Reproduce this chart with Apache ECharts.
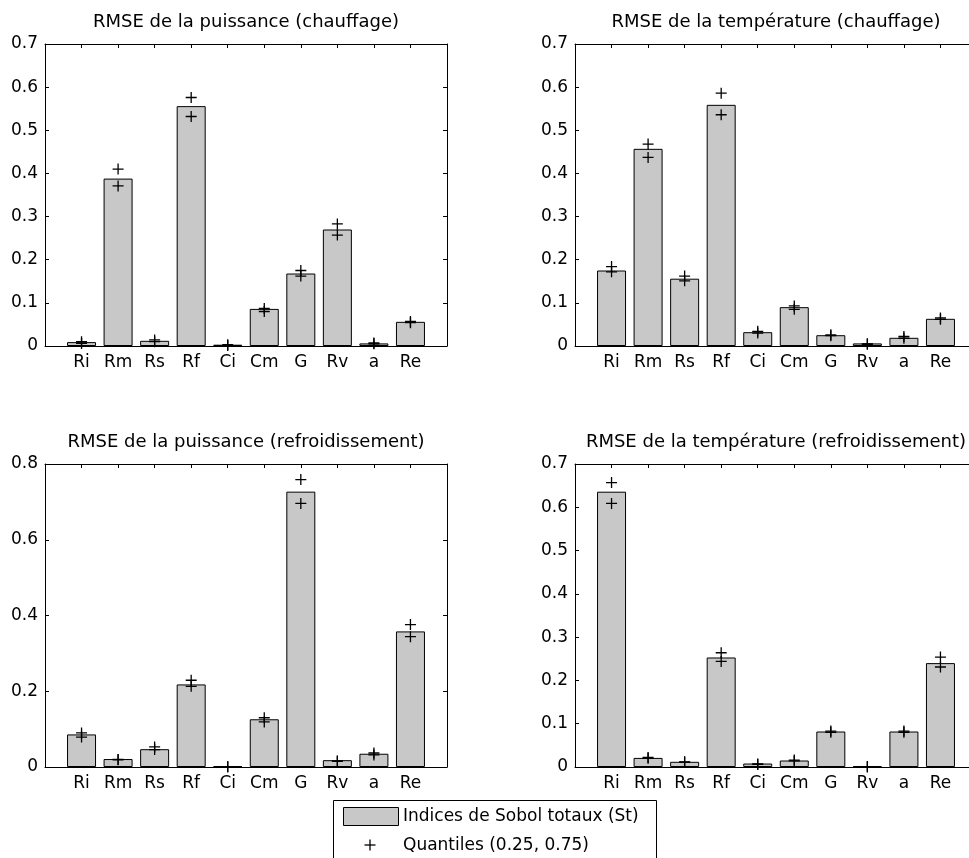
<!DOCTYPE html>
<html><head><meta charset="utf-8">
<script src="https://cdn.jsdelivr.net/npm/echarts@6/dist/echarts.min.js"></script>
<style>html,body{margin:0;padding:0;background:#fff}#c{width:969px;height:858px}</style>
</head><body><div id="c"></div>
<script>
// ---- data ----
const categories = ['Ri','Rm','Rs','Rf','Ci','Cm','G','Rv','a','Re'];
const titles = [
  'RMSE de la puissance (chauffage)',
  'RMSE de la température (chauffage)',
  'RMSE de la puissance (refroidissement)',
  'RMSE de la température (refroidissement)'
];
const stPuisChauf  = [0.009, 0.388, 0.012, 0.556, 0.003, 0.086, 0.168, 0.270, 0.006, 0.056];
const q25PuisChauf = [0.006, 0.371, 0.010, 0.532, 0.001, 0.080, 0.162, 0.257, 0.005, 0.054];
const q75PuisChauf = [0.010, 0.410, 0.014, 0.576, 0.003, 0.087, 0.175, 0.283, 0.007, 0.057];

const stTempChauf  = [0.175, 0.457, 0.156, 0.559, 0.032, 0.090, 0.025, 0.006, 0.019, 0.063];
const q25TempChauf = [0.172, 0.437, 0.151, 0.536, 0.030, 0.085, 0.024, 0.004, 0.018, 0.062];
const q75TempChauf = [0.184, 0.468, 0.162, 0.586, 0.034, 0.093, 0.026, 0.005, 0.022, 0.065];

const stPuisRefr  = [0.086, 0.021, 0.047, 0.218, 0.002, 0.126, 0.727, 0.018, 0.035, 0.358];
const q25PuisRefr = [0.079, 0.019, 0.046, 0.213, 0.000, 0.119, 0.696, 0.015, 0.032, 0.344];
const q75PuisRefr = [0.090, 0.020, 0.053, 0.229, 0.001, 0.130, 0.759, 0.016, 0.037, 0.376];

const stTempRefr  = [0.636, 0.021, 0.012, 0.253, 0.008, 0.015, 0.082, 0.002, 0.082, 0.240];
const q25TempRefr = [0.609, 0.020, 0.011, 0.244, 0.006, 0.014, 0.080, 0.000, 0.080, 0.231];
const q75TempRefr = [0.657, 0.022, 0.012, 0.264, 0.007, 0.016, 0.083, 0.001, 0.083, 0.254];

const yMaxes = [0.7, 0.7, 0.8, 0.7];
const yIntervals = [0.1, 0.1, 0.2, 0.1];
const legendLabels = ['Indices de Sobol totaux (St)', 'Quantiles (0.25, 0.75)'];

// ---- layout / style ----
const FONT = 'DejaVu Sans';
const BAR_FILL = '#c8c8c8';
const panels = [
  {st: stPuisChauf, q25: q25PuisChauf, q75: q75PuisChauf, left: 45,  top: 44,  height: 302},
  {st: stTempChauf, q25: q25TempChauf, q75: q75TempChauf, left: 575, top: 44,  height: 302},
  {st: stPuisRefr,  q25: q25PuisRefr,  q75: q75PuisRefr,  left: 45,  top: 464, height: 303},
  {st: stTempRefr,  q25: q25TempRefr,  q75: q75TempRefr,  left: 575, top: 464, height: 303}
];
const PW = 402;
const plusPath = 'path://M0,5L10,5M5,0L5,10';

const grid = [], xAxis = [], yAxis = [], series = [], title = [];
panels.forEach((p, i) => {
  grid.push({left: p.left, top: p.top, width: PW, height: p.height,
             containLabel: false, outerBoundsMode: 'none'});
  title.push({
    text: titles[i], left: p.left + PW / 2, top: p.top - 31, textAlign: 'center', padding: 0,
    textStyle: {fontFamily: FONT, fontSize: 18, fontWeight: 'normal', color: '#000'}
  });
  const common = {
    gridIndex: i, type: 'value', min: 0, max: 11, interval: 1,
    axisLine: {show: true, onZero: false, lineStyle: {color: '#000', width: 1}},
    axisTick: {show: true, inside: true, length: 4, lineStyle: {color: '#000'}},
    splitLine: {show: false}
  };
  xAxis.push(Object.assign({}, common, {
    position: 'bottom',
    axisLabel: {show: true, margin: 8, color: '#000', fontFamily: FONT, fontSize: 17,
      formatter: v => categories[v - 1] || ''}
  }));
  xAxis.push(Object.assign({}, common, {position: 'top', axisLabel: {show: false}}));
  const ycommon = {
    gridIndex: i, type: 'value', min: 0, max: yMaxes[i], interval: yIntervals[i],
    axisLine: {show: true, onZero: false, lineStyle: {color: '#000', width: 1}},
    axisTick: {show: true, inside: true, length: 4, lineStyle: {color: '#000'}},
    splitLine: {show: false}
  };
  yAxis.push(Object.assign({}, ycommon, {
    position: 'left',
    axisLabel: {show: true, margin: 7, color: '#000', fontFamily: FONT, fontSize: 17,
      formatter: v => String(+v.toFixed(1))}
  }));
  yAxis.push(Object.assign({}, ycommon, {position: 'right', axisLabel: {show: false}}));

  series.push({
    type: 'bar', name: legendLabels[0], xAxisIndex: 2 * i, yAxisIndex: 2 * i,
    barWidth: 29,
    data: p.st.map((v, k) => [k + 1, v]),
    itemStyle: {color: BAR_FILL, borderColor: '#000', borderWidth: 1},
    emphasis: {disabled: true}
  });
  const qd = [];
  p.q25.forEach((v, k) => { qd.push([k + 1, v]); qd.push([k + 1, p.q75[k]]); });
  series.push({
    type: 'scatter', name: legendLabels[1], xAxisIndex: 2 * i, yAxisIndex: 2 * i,
    symbol: plusPath, symbolSize: 11,
    data: qd,
    itemStyle: {color: 'transparent', borderColor: '#000', borderWidth: 1.3, opacity: 1},
    emphasis: {disabled: true}
  });
});

const graphic = [
  {type: 'rect', shape: {x: 333.5, y: 800.5, width: 323, height: 90},
   style: {fill: '#fff', stroke: '#000', lineWidth: 1}, z: 10},
  {type: 'rect', shape: {x: 343.5, y: 807.5, width: 55, height: 18},
   style: {fill: BAR_FILL, stroke: '#000', lineWidth: 1}, z: 11},
  {type: 'text', x: 403, y: 817, z: 11,
   style: {text: legendLabels[0], fontFamily: FONT, fontSize: 17, fill: '#000', verticalAlign: 'middle'}},
  {type: 'line', shape: {x1: 364.5, y1: 845, x2: 375.5, y2: 845}, style: {stroke: '#000', lineWidth: 1.3}, z: 11},
  {type: 'line', shape: {x1: 370, y1: 839.5, x2: 370, y2: 850.5}, style: {stroke: '#000', lineWidth: 1.3}, z: 11},
  {type: 'text', x: 403, y: 846, z: 11,
   style: {text: legendLabels[1], fontFamily: FONT, fontSize: 17, fill: '#000', verticalAlign: 'middle'}}
];

const chart = echarts.init(document.getElementById('c'), null, {renderer: 'canvas'});
chart.setOption({
  animation: false,
  backgroundColor: '#fff',
  title, grid, xAxis, yAxis, series, graphic
});
</script>
</body></html>
